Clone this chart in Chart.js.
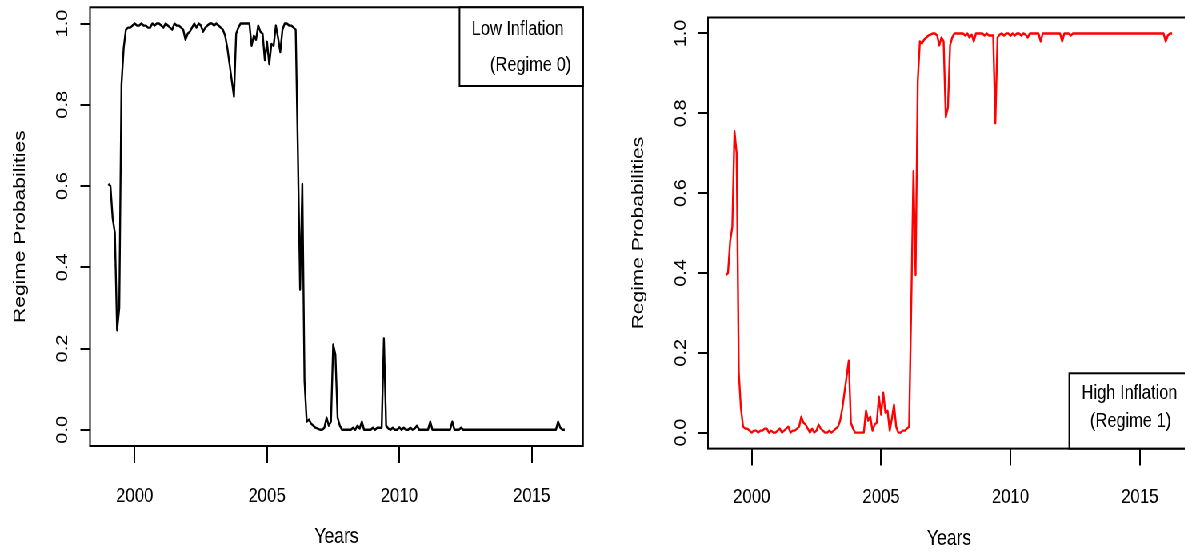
<!DOCTYPE html>
<html>
<head>
<meta charset="utf-8">
<script src="https://cdn.jsdelivr.net/npm/chart.js@4.4.1/dist/chart.umd.min.js"></script>
<style>
  html, body { margin: 0; padding: 0; background: #fff; overflow: hidden; }
  /* the original figure is squeezed horizontally, so draw wide and squeeze */
  #stage { position: absolute; left: 0; top: 0; width: 1520px; height: 553px; transform: scale(0.8, 1); transform-origin: 0 0; }
  #stage canvas { position: absolute; top: 0; }
  #chartLow { left: 0; }
  #chartHigh { left: 760px; }
</style>
</head>
<body>
<div id="stage">
  <canvas id="chartLow" width="760" height="553"></canvas>
  <canvas id="chartHigh" width="760" height="553"></canvas>
</div>
<script>
// ---- data: monthly regime probabilities, 1999:01 .. 2016:04 ----
const startYear = 1999;
const yearTicks = [2000, 2005, 2010, 2015];
const probTicks = [0, 0.2, 0.4, 0.6, 0.8, 1.0];

const lowInflation = [
  0.605, 0.60, 0.52, 0.485, 0.245, 0.30, 0.85, 0.94,
  0.985, 0.99, 0.99, 0.995, 1.0, 0.995, 0.995, 1.0, 0.995, 0.995, 0.99, 0.99,
  1.0, 0.995, 1.0, 1.0, 0.995, 0.99, 1.0, 0.995, 0.99, 0.985, 1.0, 0.995,
  0.995, 0.99, 0.985, 0.96, 0.975, 0.98, 0.99, 1.0, 0.99, 1.0, 0.995, 0.98,
  0.99, 0.995, 1.0, 1.0, 0.995, 1.0, 0.995, 0.99, 0.985, 0.97, 0.94, 0.90,
  0.86, 0.82, 0.975, 0.99, 1.0, 1.0, 1.0, 1.0, 1.0, 0.945, 0.97, 0.96,
  0.995, 0.98, 0.975, 0.91, 0.955, 0.90, 0.95, 0.945, 0.995, 0.965, 0.93, 0.985,
  1.0, 1.0, 0.995, 0.995, 0.99, 0.985, 0.68, 0.345, 0.605, 0.12, 0.02, 0.025,
  0.015, 0.01, 0.005, 0.003, 0.0, 0.0, 0.005, 0.03, 0.01, 0.02, 0.21, 0.185,
  0.03, 0.01, 0.0, 0.0, 0.0, 0.0, 0.0, 0.005, 0.0, 0.01, 0.003, 0.02,
  0.0, 0.0, 0.0, 0.0, 0.005, 0.0, 0.005, 0.005, 0.005, 0.225, 0.01, 0.003,
  0.0, 0.005, 0.0, 0.0, 0.006, 0.0, 0.005, 0.0, 0.0, 0.005, 0.0, 0.003,
  0.01, 0.0, 0.0, 0.0, 0.0, 0.0, 0.02, 0.0, 0.0, 0.0, 0.0, 0.0,
  0.0, 0.0, 0.0, 0.0, 0.02, 0.0, 0.0, 0.0, 0.005, 0.0, 0.0, 0.0,
  0.0, 0.0, 0.0, 0.0, 0.0, 0.0, 0.0, 0.0, 0.0, 0.0, 0.0, 0.0,
  0.0, 0.0, 0.0, 0.0, 0.0, 0.0, 0.0, 0.0, 0.0, 0.0, 0.0, 0.0,
  0.0, 0.0, 0.0, 0.0, 0.0, 0.0, 0.0, 0.0, 0.0, 0.0, 0.0, 0.0,
  0.0, 0.0, 0.0, 0.0, 0.02, 0.005, 0.0, 0.0
];

const highInflation = [
  0.395, 0.40, 0.48, 0.515, 0.755, 0.70, 0.15, 0.06,
  0.015, 0.01, 0.01, 0.005, 0.0, 0.005, 0.005, 0.0, 0.005, 0.005, 0.01, 0.01,
  0.0, 0.005, 0.0, 0.0, 0.005, 0.01, 0.0, 0.005, 0.01, 0.015, 0.0, 0.005,
  0.005, 0.01, 0.015, 0.04, 0.025, 0.02, 0.01, 0.0, 0.01, 0.0, 0.005, 0.02,
  0.01, 0.005, 0.0, 0.0, 0.005, 0.0, 0.005, 0.01, 0.015, 0.03, 0.06, 0.10,
  0.14, 0.18, 0.025, 0.01, 0.0, 0.0, 0.0, 0.0, 0.0, 0.055, 0.03, 0.04,
  0.005, 0.02, 0.025, 0.09, 0.045, 0.10, 0.05, 0.055, 0.005, 0.035, 0.07, 0.015,
  0.0, 0.0, 0.005, 0.005, 0.01, 0.015, 0.32, 0.655, 0.395, 0.88, 0.98, 0.975,
  0.985, 0.99, 0.995, 0.997, 1.0, 1.0, 0.995, 0.97, 0.99, 0.98, 0.79, 0.815,
  0.97, 0.99, 1.0, 1.0, 1.0, 1.0, 1.0, 0.995, 1.0, 0.99, 0.997, 0.98,
  1.0, 1.0, 1.0, 1.0, 0.995, 1.0, 0.995, 0.995, 0.995, 0.775, 0.99, 0.997,
  1.0, 0.995, 1.0, 1.0, 0.994, 1.0, 0.995, 1.0, 1.0, 0.995, 1.0, 0.997,
  0.99, 1.0, 1.0, 1.0, 1.0, 1.0, 0.98, 1.0, 1.0, 1.0, 1.0, 1.0,
  1.0, 1.0, 1.0, 1.0, 0.98, 1.0, 1.0, 1.0, 0.995, 1.0, 1.0, 1.0,
  1.0, 1.0, 1.0, 1.0, 1.0, 1.0, 1.0, 1.0, 1.0, 1.0, 1.0, 1.0,
  1.0, 1.0, 1.0, 1.0, 1.0, 1.0, 1.0, 1.0, 1.0, 1.0, 1.0, 1.0,
  1.0, 1.0, 1.0, 1.0, 1.0, 1.0, 1.0, 1.0, 1.0, 1.0, 1.0, 1.0,
  1.0, 1.0, 1.0, 1.0, 0.98, 0.995, 1.0, 1.0
];

const FONT = '"Liberation Sans", Arial, Helvetica, sans-serif';
const CANVAS_W = 760, CANVAS_H = 553;

// frame around the plot region + boxed legend text (R style)
const frameAndLegend = {
    id: 'frameAndLegend',
    afterDraw(chart, args, opts) {
        const { ctx, chartArea: a } = chart;
        ctx.save();
        ctx.strokeStyle = '#000';
        ctx.lineWidth = 2;
        ctx.strokeRect(a.left, a.top, a.right - a.left, a.bottom - a.top);

        const top = opts.top != null ? opts.top : a.top;
        const bottom = opts.bottom != null ? opts.bottom : a.bottom;
        ctx.fillStyle = '#fff';
        ctx.fillRect(opts.left, top, a.right - opts.left, bottom - top);
        ctx.strokeRect(opts.left, top, a.right - opts.left, bottom - top);

        ctx.fillStyle = '#000';
        ctx.font = '20.5px ' + FONT;
        ctx.textAlign = 'left';
        ctx.textBaseline = 'middle';
        opts.lines.forEach(l => ctx.fillText(l.text, l.x, l.y));
        ctx.restore();
    }
};

function makePanel(id, values, color, cfg) {
    const points = values.map((v, i) => ({ x: startYear + i / 12, y: v }));

    return new Chart(document.getElementById(id), {
        type: 'line',
        data: {
            datasets: [{
                data: points,
                borderColor: color,
                borderWidth: 2.4,
                borderJoinStyle: 'round',
                pointRadius: 0,
                tension: 0,
                fill: false
            }]
        },
        options: {
            responsive: false,
            animation: false,
            devicePixelRatio: 1,
            layout: { padding: { top: cfg.top, right: CANVAS_W - cfg.right, left: 0, bottom: 0 } },
            plugins: {
                legend: { display: false },
                tooltip: { enabled: false },
                frameAndLegend: cfg.legend
            },
            scales: {
                x: {
                    type: 'linear',
                    min: 1998.31,
                    max: 2016.94,
                    afterBuildTicks: s => { s.ticks = yearTicks.map(v => ({ value: v })); },
                    afterFit: s => { s.height = CANVAS_H - cfg.bottom; s.paddingLeft = 0; s.paddingRight = 0; },
                    border: { display: false },
                    grid: { drawOnChartArea: false, tickLength: 17, color: '#000', lineWidth: 2 },
                    ticks: {
                        color: '#000', font: { family: FONT, size: 21 }, padding: cfg.xTickPad,
                        maxRotation: 0, autoSkip: false, callback: v => String(v)
                    },
                    title: {
                        display: true, text: 'Years', color: '#000',
                        font: { family: FONT, size: 22 }, padding: { top: 0, bottom: cfg.xTitlePad }
                    }
                },
                y: {
                    min: -0.04,
                    max: 1.04,
                    afterBuildTicks: s => { s.ticks = probTicks.map(v => ({ value: v })); },
                    afterFit: s => { s.width = cfg.left; s.paddingTop = 0; s.paddingBottom = 0; },
                    border: { display: false },
                    grid: { drawOnChartArea: false, tickLength: 12, color: '#000', lineWidth: 2 },
                    ticks: {
                        color: '#000', font: { family: FONT, size: 20 }, padding: 8,
                        minRotation: 90, maxRotation: 90, crossAlign: 'center',
                        autoSkip: false, callback: v => v.toFixed(1)
                    },
                    title: {
                        display: true, text: 'Regime Probabilities', color: '#000',
                        font: { family: FONT, size: 21 }, padding: { top: cfg.yTitlePad, bottom: 0 }
                    }
                }
            }
        },
        plugins: [frameAndLegend]
    });
}

makePanel('chartLow', lowInflation, '#000000', {
    left: 112.5, right: 728.75, top: 7.3, bottom: 446,
    xTickPad: 21, xTitlePad: 2.4, yTitlePad: 12.4,
    legend: {
        left: 574.4, bottom: 86,
        lines: [
            { text: 'Low Inflation', x: 589.6, y: 29.5 },
            { text: '(Regime 0)', x: 612.5, y: 65 }
        ]
    }
});

makePanel('chartHigh', highInflation, '#ff0000', {
    left: 125, right: 727.5, top: 17.5, bottom: 448.6,
    xTickPad: 19, xTitlePad: 0.4, yTitlePad: 26,
    legend: {
        left: 576.6, top: 373.3,
        lines: [
            { text: 'High Inflation', x: 592.1, y: 393.5 },
            { text: '(Regime 1)', x: 602.5, y: 421 }
        ]
    }
});
</script>
</body>
</html>
